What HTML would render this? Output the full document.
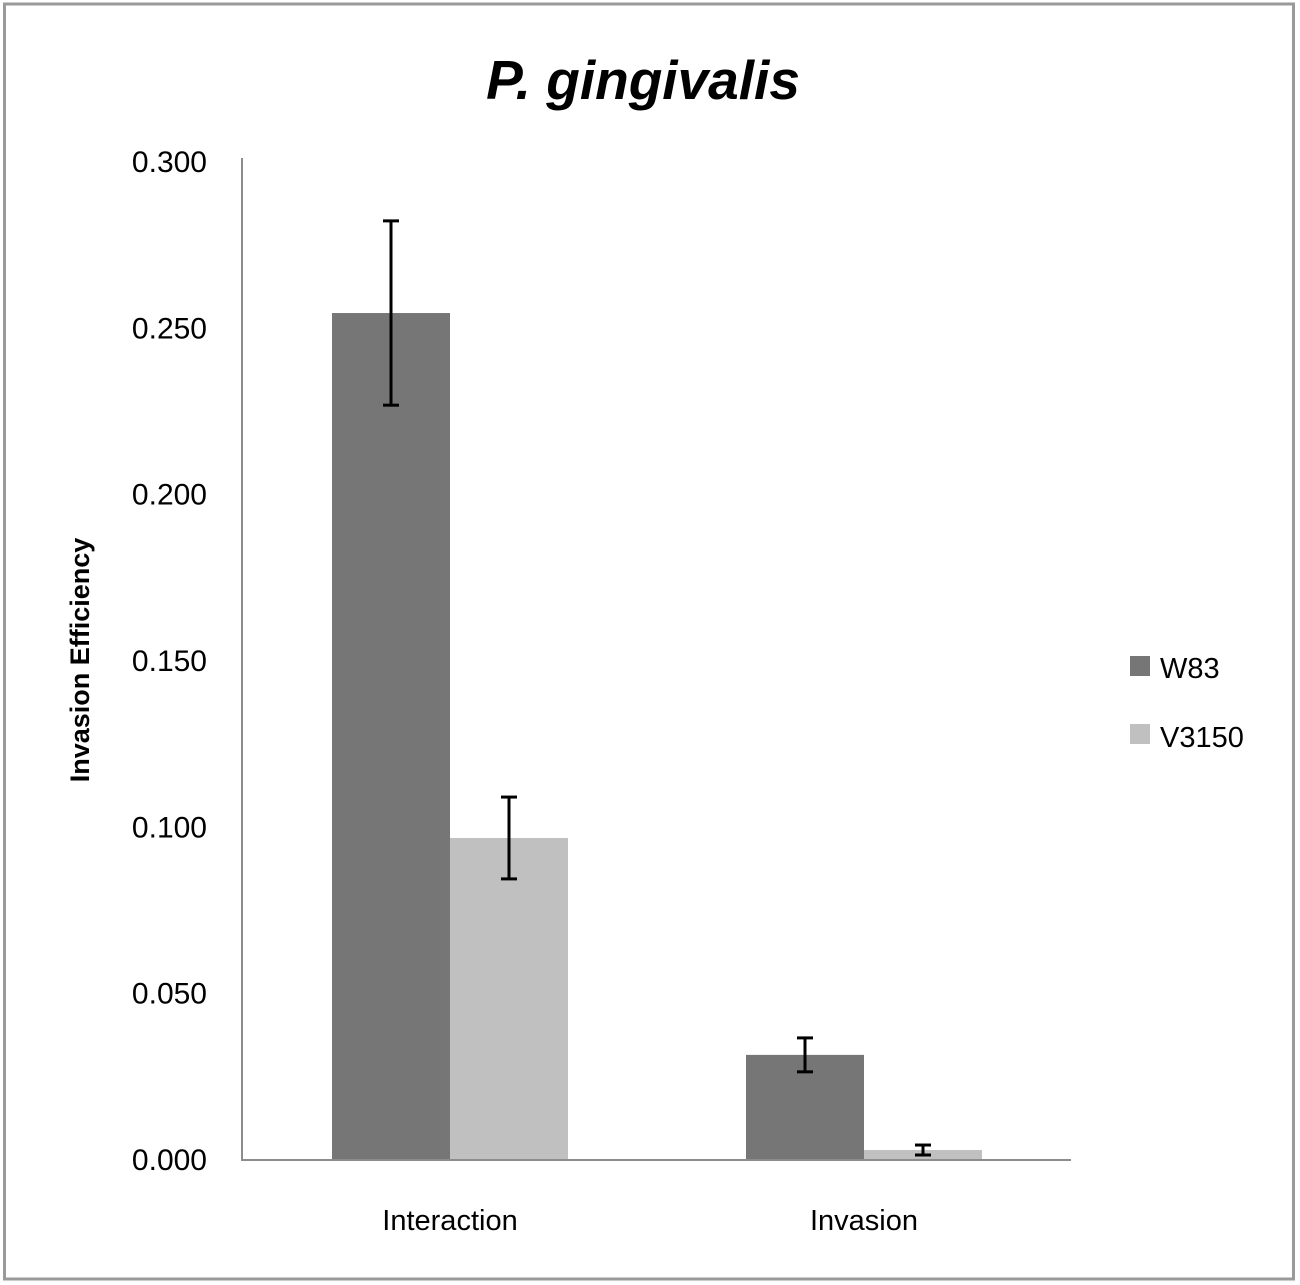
<!DOCTYPE html>
<html><head><meta charset="utf-8"><style>
html,body{margin:0;padding:0;background:#fff;}
svg{display:block;font-family:"Liberation Sans",sans-serif;}
</style></head><body>
<svg id="chart" width="1300" height="1285" viewBox="0 0 1300 1285" xmlns="http://www.w3.org/2000/svg">
<rect x="4.5" y="4" width="1289" height="1275" fill="#fff" stroke="#9a9a9a" stroke-width="3"/>
<text x="643" y="99" text-anchor="middle" font-size="55" font-weight="bold" font-style="italic">P. gingivalis</text>
<text transform="translate(89,660) rotate(-90)" text-anchor="middle" font-size="27" font-weight="bold">Invasion Efficiency</text>
<g id="yticks"></g>
<g id="bars"></g>
<g id="errs"></g>
<line x1="242" y1="158" x2="242" y2="1160" stroke="#8c8c8c" stroke-width="2"/>
<line x1="241" y1="1160" x2="1071" y2="1160" stroke="#8c8c8c" stroke-width="2"/>
<g id="xlabels"></g>
<rect x="1130" y="656" width="20" height="20" fill="#767676"/>
<text x="1160" y="678" font-size="29">W83</text>
<rect x="1130" y="724" width="20" height="20" fill="#c0c0c0"/>
<text x="1160" y="747" font-size="29">V3150</text>
</svg>
<script>
const categories = ["Interaction", "Invasion"];
const seriesNames = ["W83", "V3150"];
const w83Values = [0.2543, 0.0313];
const v3150Values = [0.0965, 0.0027];
const w83Err = [0.0277, 0.0051];
const v3150Err = [0.0123, 0.0015];
const yTicks = [0, 0.05, 0.1, 0.15, 0.2, 0.25, 0.3];
const yTickLabels = ["0.000","0.050","0.100","0.150","0.200","0.250","0.300"];

const NS = "http://www.w3.org/2000/svg";
const y0 = 1159, yTop = 161, yMax = 0.3;
function yScale(v){ return y0 - (v / yMax) * (y0 - yTop); }
const xStart = 242, xEnd = 1070, barW = 118;
const groupW = (xEnd - xStart) / categories.length;
function xCenter(i){ return xStart + groupW * (i + 0.5) + 1; }
function mk(tag, attrs, parent){ const e = document.createElementNS(NS, tag); for (const k in attrs) e.setAttribute(k, attrs[k]); parent.appendChild(e); return e; }

const yt = document.getElementById('yticks');
yTicks.forEach((v, i) => {
  const t = mk('text', {x: 207, y: yScale(v) + 11, 'text-anchor': 'end', 'font-size': 30}, yt);
  t.textContent = yTickLabels[i];
  
  
});

const bars = document.getElementById('bars');
const errs = document.getElementById('errs');
const series = [w83Values, v3150Values];
const errors = [w83Err, v3150Err];
const colors = ["#767676", "#c0c0c0"];
categories.forEach((c, i) => {
  series.forEach((vals, s) => {
    const x = xCenter(i) - barW + s * barW;
    const r = mk('rect', {x: x, y: yScale(vals[i]), width: barW, height: y0 - yScale(vals[i]), fill: colors[s]}, bars);
    
    
    const cx = x + barW / 2;
    const hi = yScale(vals[i] + errors[s][i]), lo = yScale(vals[i] - errors[s][i]);
    const g = mk('g', {stroke: '#000', 'stroke-width': 3}, errs);
    
    
    mk('line', {x1: cx, y1: hi, x2: cx, y2: lo}, g);
    mk('line', {x1: cx - 8, y1: hi, x2: cx + 8, y2: hi}, g);
    mk('line', {x1: cx - 8, y1: lo, x2: cx + 8, y2: lo}, g);
  });
  const t = mk('text', {x: xCenter(i), y: 1230, 'text-anchor': 'middle', 'font-size': 29}, document.getElementById('xlabels'));
  t.textContent = c;
  
  
});
</script>
</body></html>
